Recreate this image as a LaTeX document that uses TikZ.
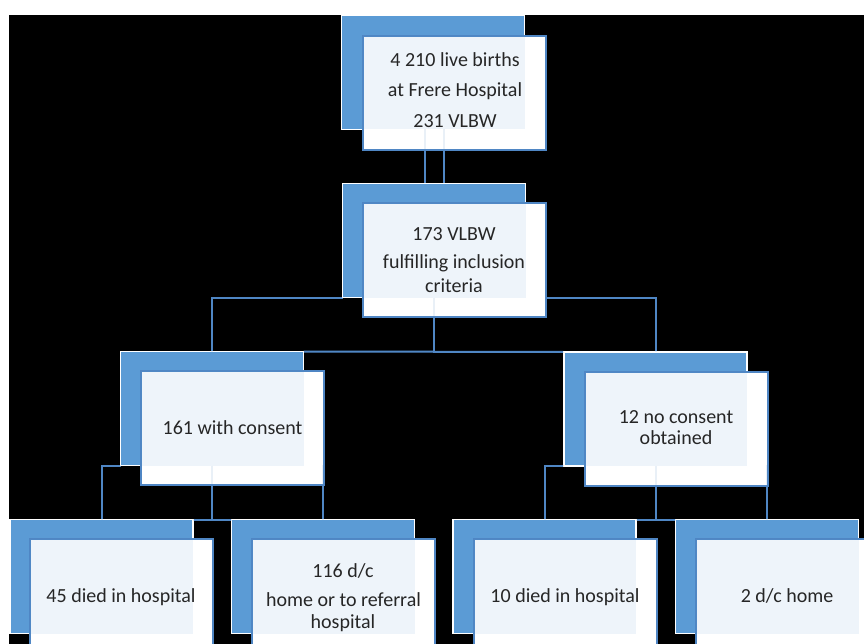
\documentclass[tikz,border=0pt]{standalone}
\usepackage{fontspec}
\setmainfont{Carlito}
\definecolor{bkblue}{HTML}{5B9BD5}
\definecolor{lnblue}{HTML}{4F86C4}
\definecolor{txt}{HTML}{262626}
\tikzset{
  backbox/.style={rectangle, fill=bkblue, draw=white, line width=1.5pt, minimum width=183pt, minimum height=114pt, inner sep=0pt, outer sep=0pt},
  frontbox/.style={rectangle, fill=white, draw=lnblue, line width=2pt, minimum width=183pt, minimum height=114pt, inner sep=0pt, outer sep=0pt},
  tint/.style={fill=bkblue, fill opacity=0.1},
  conn/.style={draw=lnblue, line width=2pt},
  faintconn/.style={draw=lnblue, line width=2pt, draw opacity=0.12},
  lbl/.style={font=\fontsize{20}{24}\selectfont, text=txt, anchor=base, inner sep=0pt}
}
\newcommand\myconnectors[1]{%
  \draw[#1] ([xshift=-8pt]b1.south) -- ([xshift=-8pt]b1.south |- b2.north);
  \draw[#1] ([xshift=11pt]b1.south) -- ([xshift=11pt]b1.south |- b2.north);
  \draw[#1] (b2.south west) -| (b3l.north);
  \draw[#1] (f2.east |- b2.south) -| (b3r.north);
  \draw[#1] (b2.south) -- (b2.south |- b3l.north);
  \draw[#1] (b3l.north east) -- (b3r.north west);
  \draw[#1] (b3l.south west) -| (b4a.north);
  \draw[#1] (b3l.south) -- (b3l.south |- b4a.north);
  \draw[#1] (b4a.north east) -- (b4b.north west);
  \draw[#1] (f3l.east |- b3l.south) -| (b4b.north);
  \draw[#1] (b3r.south west) -| (b4c.north);
  \draw[#1] (b3r.south) -- (b3r.south |- b4c.north);
  \draw[#1] (b4c.north east) -- (b4d.north west);
  \draw[#1] (f3r.east |- b3r.south) -| (b4d.north);
}
\begin{document}
\begin{tikzpicture}[x=1pt,y=-1pt]
\useasboundingbox (0,0) rectangle (864,644);
\fill[white] (0,0) rectangle (864,644);
\fill[black] (9,15) rectangle (864,644);
% coordinate placeholders for nodes (positions)
\path
  (433,72.5)   node[backbox] (b1) {}
  (434,240.5)  node[backbox] (b2) {}
  (212,408.5)  node[backbox] (b3l) {}
  (655.5,409)  node[backbox] (b3r) {}
  (101.5,576.5) node[backbox] (b4a) {}
  (323,576.5)  node[backbox] (b4b) {}
  (544.5,576.5) node[backbox] (b4c) {}
  (767,576.5)  node[backbox] (b4d) {};
\path
  (454.5,93)   coordinate (f1)
  (454.5,260)  coordinate (f2c)
  (232,428)    coordinate (f3lc)
  (676,428.5)  coordinate (f3rc)
  (121.5,596)  coordinate (f4ac)
  (343.5,596)  coordinate (f4bc)
  (565,596)    coordinate (f4cc)
  (787,596)    coordinate (f4dc);
% invisible sizing copies so connectors can use front-box anchors
\path (454.5,260) node[minimum width=183pt, minimum height=114pt, inner sep=0pt, outer sep=0pt] (f2) {};
\path (232,428) node[minimum width=183pt, minimum height=114pt, inner sep=0pt, outer sep=0pt] (f3l) {};
\path (676,428.5) node[minimum width=183pt, minimum height=114pt, inner sep=0pt, outer sep=0pt] (f3r) {};
% connectors (behind)
\myconnectors{conn}
% back boxes redrawn on top of connectors
\node[backbox] at (b1) {};
\node[backbox] at (b2) {};
\node[backbox] at (b3l) {};
\node[backbox] at (b3r) {};
\node[backbox] at (b4a) {};
\node[backbox] at (b4b) {};
\node[backbox] at (b4c) {};
\node[backbox] at (b4d) {};
% front boxes
\node[frontbox] (F1) at (454.5,93) {};
\node[frontbox] (F2) at (f2) {};
\node[frontbox] (F3l) at (f3l) {};
\node[frontbox] (F3r) at (f3r) {};
\node[frontbox] (F4a) at (121.5,596) {};
\node[frontbox] (F4b) at (343.5,596) {};
\node[frontbox] (F4c) at (565,596) {};
\node[frontbox] (F4d) at (787,596) {};
% tint of the back boxes showing through
\fill[tint] (F1.north west) rectangle (b1.south east);
\fill[tint] (F2.north west) rectangle (b2.south east);
\fill[tint] (F3l.north west) rectangle (b3l.south east);
\fill[tint] (F3r.north west) rectangle (b3r.south east);
\fill[tint] (F4a.north west) rectangle (b4a.south east);
\fill[tint] (F4b.north west) rectangle (b4b.south east);
\fill[tint] (F4c.north west) rectangle (b4c.south east);
\fill[tint] (F4d.north west) rectangle (b4d.south east);
% faint connectors showing through
\myconnectors{faintconn}
% labels
\node[lbl] (t1a) at (455,67) {4 210 live births};
\node[lbl] (t1b) at (455,97) {at Frere Hospital};
\node[lbl] (t1c) at (455,128) {231 VLBW};
\node[lbl] (t2a) at (454,241) {173 VLBW};
\node[lbl] (t2b) at (454,269) {fulfilling inclusion};
\node[lbl] (t2c) at (454,292) {criteria};
\node[lbl] (t3l) at (232.5,434) {161 with consent};
\node[lbl] (t3ra) at (676,423) {12 no consent};
\node[lbl] (t3rb) at (676,444) {obtained};
\node[lbl] (t4a) at (121,602) {45 died in hospital};
\node[lbl] (t4ba) at (343,577) {116 d/c};
\node[lbl] (t4bb) at (343.5,606) {home or to referral};
\node[lbl] (t4bc) at (343,628) {hospital};
\node[lbl] (t4c) at (565,602) {10 died in hospital};
\node[lbl] (t4d) at (787,602) {2 d/c home};
\end{tikzpicture}
\end{document}
